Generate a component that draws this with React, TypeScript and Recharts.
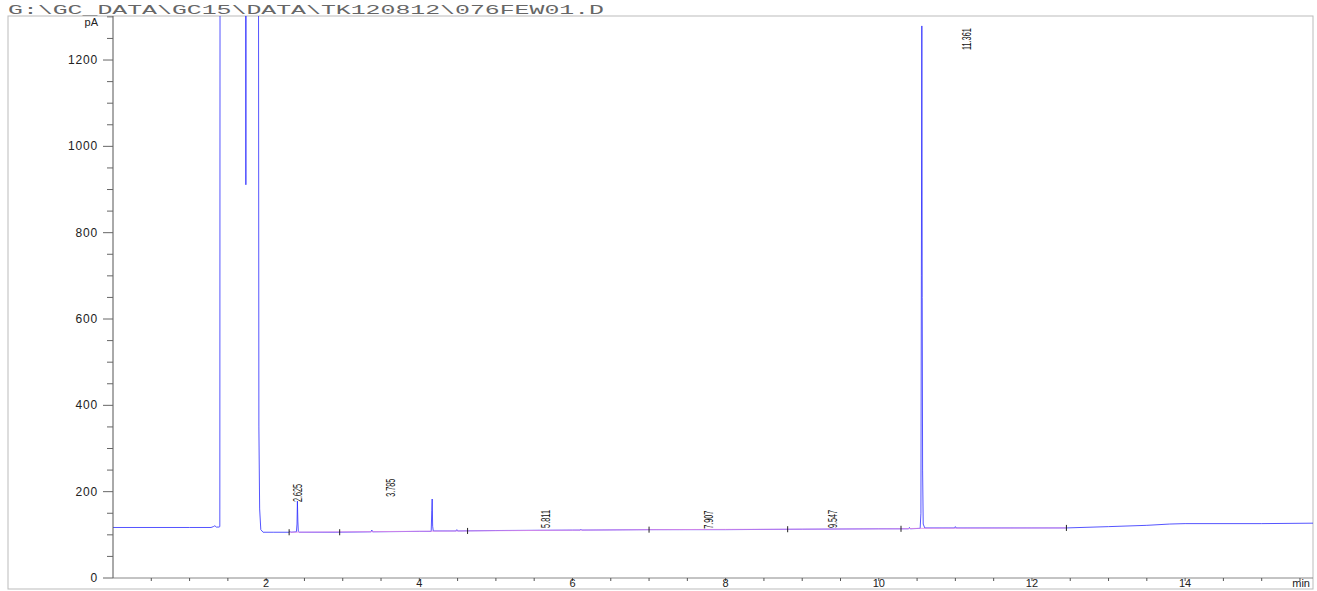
import React from "react";
import { LineChart, Line, XAxis, YAxis, ReferenceLine, ReferenceDot } from "recharts";

// signal (min, pA)
const signalTimes = [
  0, 1.0, 1.28, 1.31, 1.33, 1.35, 1.385, 1.395, 1.4, 1.725, 1.735, 1.745, 1.895, 1.905, 1.915, 1.93, 1.96,
  2.1, 2.3, 2.31, 2.32, 2.395, 2.403, 2.408, 2.414, 2.42, 2.43, 2.9, 3.37, 3.38, 3.39, 4.0, 4.155, 4.163,
  4.168, 4.174, 4.182, 4.48, 4.49, 4.5, 5.0, 6.0, 6.1, 6.11, 6.12, 7.0, 8.0, 9.0, 10.0, 10.39, 10.4, 10.41,
  10.54, 10.55, 10.556, 10.562, 10.567, 10.572, 10.58, 10.6, 10.99, 11.0, 11.01, 12.0, 12.45, 13.0, 13.5,
  13.8, 14.0, 15.0, 15.67,
];
const signalValues = [
  117, 117, 117, 119, 121, 118, 118, 119, 2500, 2500, 911, 2500, 2500, 350, 160, 112, 106,
  106, 106, 108, 106, 107, 125, 178, 132, 108, 106, 106, 107, 111, 107, 108, 108, 157,
  183, 120, 109, 109, 112, 109, 110, 111, 111, 113, 111, 112, 112, 113, 114, 114, 117, 114,
  115, 150, 700, 1279, 650, 250, 125, 116, 116, 119, 116, 116, 116, 119, 122,
  125, 126, 126, 127,
];

// integration baseline (pink)
const baseTimes = [2.3, 4.6, 7.0, 10.3, 10.5, 12.45];
const baseValues = [106, 109, 112, 114, 115, 116];

// peak start/end marks
const markTimes = [2.3, 2.96, 4.63, 7.0, 8.81, 10.29, 12.45];
const markValues = [106, 106, 109, 112, 113, 114, 116];

// retention time labels
const peakLabels = ["2.625", "3.785", "5.811", "7.907", "9.547", "11.361"];
const peakLabelTimes = [2.415, 3.63, 5.65, 7.77, 9.39, 11.14];
const peakLabelValues = [176, 188, 116, 114, 116, 1223];

const xTicks = [0.5, 1, 1.5, 2, 2.5, 3, 3.5, 4, 4.5, 5, 5.5, 6, 6.5, 7, 7.5, 8, 8.5, 9, 9.5, 10, 10.5, 11, 11.5, 12, 12.5, 13, 13.5, 14, 14.5, 15, 15.5];
const yTicks = [0, 50, 100, 150, 200, 250, 300, 350, 400, 450, 500, 550, 600, 650, 700, 750, 800, 850, 900, 950, 1000, 1050, 1100, 1150, 1200, 1250, 1300];

const signal = signalTimes.map((t, i) => ({ t, v: signalValues[i] }));
const baseline = baseTimes.map((t, i) => ({ t, v: baseValues[i] }));

const AXIS_X = 113;
const AXIS_Y = 578;
const FONT = "'Liberation Sans', Arial, sans-serif";

const YTick = (props: any) => {
  const { y, payload } = props;
  const major = payload.value % 200 === 0;
  return (
    <g>
      <line x1={AXIS_X - (major ? 10 : 6)} x2={AXIS_X} y1={y} y2={y} stroke="#666" />
      {major && (
        <text x={98} y={y} dy={4} textAnchor="end" fontSize={12} fontFamily={FONT} fill="#222" letterSpacing={0.8}>
          {payload.value}
        </text>
      )}
    </g>
  );
};

const XTick = (props: any) => {
  const { x, payload } = props;
  const major = payload.value % 2 === 0;
  return (
    <g>
      <line x1={x} x2={x} y1={AXIS_Y} y2={AXIS_Y + 3} stroke="#555" />
      {major && (
        <text x={x} y={587} textAnchor="middle" fontSize={11} fontFamily={FONT} fill="#222">
          {payload.value}
        </text>
      )}
    </g>
  );
};

const RotLabel = (text: string) => (props: any) => {
  const { cx, cy } = props;
  return (
    <text
      x={cx}
      y={cy}
      transform={`rotate(-90 ${cx} ${cy})`}
      dominantBaseline="central"
      fontSize={13}
      fontFamily={FONT}
      fill="#111"
      textLength={text.length > 5 ? 22 : 18}
      lengthAdjust="spacingAndGlyphs"
    >
      {text}
    </text>
  );
};

export default function App() {
  return (
    <div style={{ position: "absolute", left: 0, top: 0, width: 1317, height: 591, background: "#fff" }}>
      <svg width={1317} height={591} style={{ position: "absolute", left: 0, top: 0 }}>
        <rect x={8} y={16} width={1305} height={573} fill="none" stroke="#bbb" />
        <text x={8} y={14} fontSize={12} fontFamily="'Liberation Mono', monospace" fill="#666" textLength={596} lengthAdjust="spacingAndGlyphs">
          {"G:\\GC_DATA\\GC15\\DATA\\TK120812\\076FEW01.D"}
        </text>
        <text x={98} y={26} textAnchor="end" fontSize={11} fontFamily={FONT} fill="#222">pA</text>
        <text x={1310} y={587} textAnchor="end" fontSize={11} fontFamily={FONT} fill="#222">min</text>
      </svg>
      <div style={{ position: "absolute", left: 0, top: 0 }}>
        <LineChart width={1317} height={591} margin={{ top: 16, right: 4, left: 0, bottom: 0 }}>
          <XAxis
            dataKey="t"
            type="number"
            domain={[0, 15.67]}
            allowDataOverflow
            ticks={xTicks}
            interval={0}
            height={13}
            tickLine={false}
            tickSize={0}
            axisLine={{ stroke: "#888" }}
            tick={<XTick />}
          />
          <YAxis
            type="number"
            domain={[0, 1302]}
            allowDataOverflow
            ticks={yTicks}
            interval={0}
            width={113}
            tickLine={false}
            tickSize={0}
            axisLine={{ stroke: "#555" }}
            tick={<YTick />}
          />
          <Line data={signal} dataKey="v" type="linear" stroke="#2a2aff" strokeOpacity={0.8} strokeWidth={1} dot={false} isAnimationActive={false} />
          <Line data={baseline} dataKey="v" type="linear" stroke="#e68ce6" strokeOpacity={0.8} strokeWidth={1} dot={false} isAnimationActive={false} />
          {markTimes.map((t, i) => (
            <ReferenceLine
              key={`m${i}`}
              segment={[{ x: t, y: markValues[i] - 7 }, { x: t, y: markValues[i] + 7 }]}
              stroke="#222"
            />
          ))}
          {peakLabels.map((lab, i) => (
            <ReferenceDot key={`l${i}`} x={peakLabelTimes[i]} y={peakLabelValues[i]} r={0} shape={RotLabel(lab)} />
          ))}
        </LineChart>
      </div>
    </div>
  );
}
